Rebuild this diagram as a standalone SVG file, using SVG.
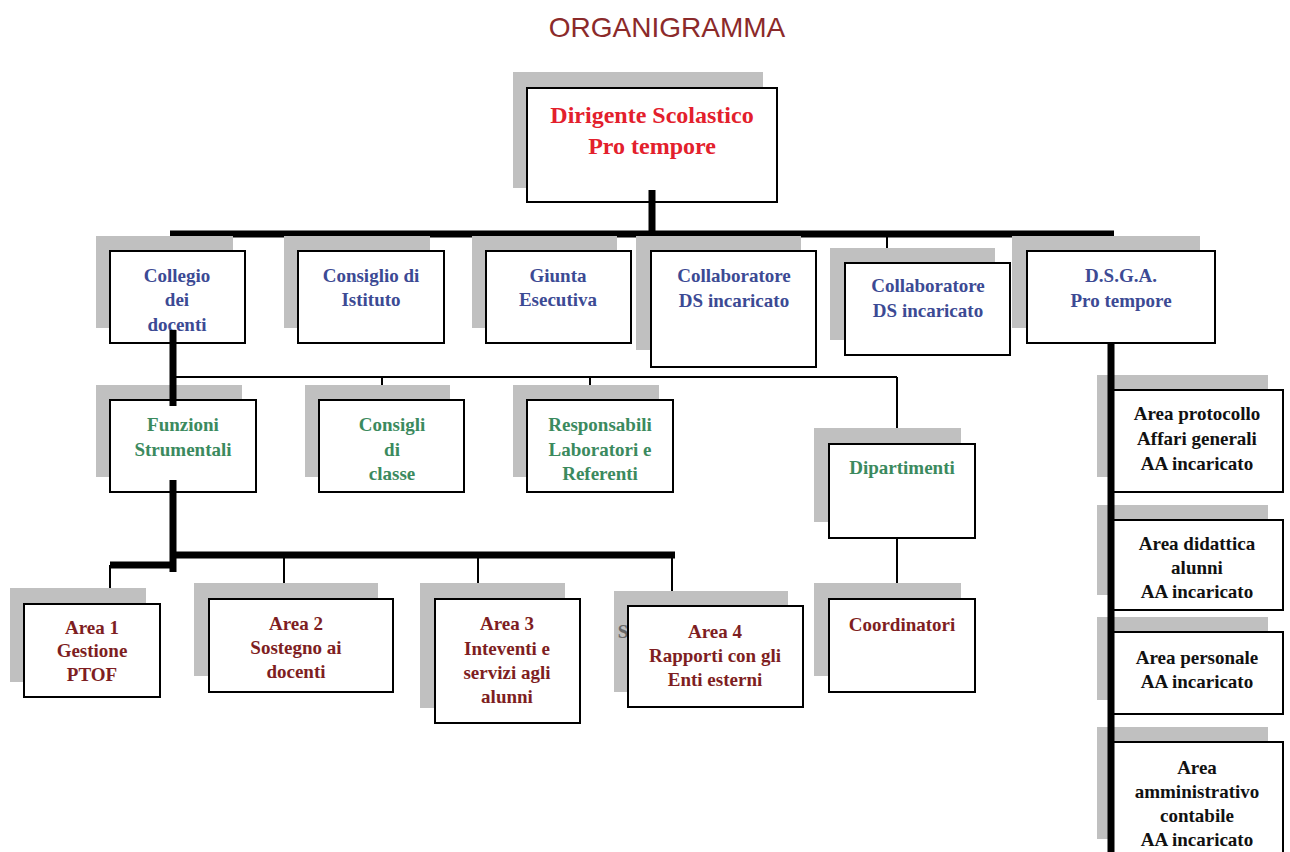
<svg xmlns="http://www.w3.org/2000/svg" width="1290" height="852" viewBox="0 0 1290 852">
<style>
.sh{fill:#c0c0c0}
.bx{fill:#fff;stroke:#000;stroke-width:2}
.tx text{font-family:'Liberation Serif','Times New Roman',serif;font-weight:bold;text-anchor:middle}
.t2{font-size:19px;fill:#3c4a94}
.t3{font-size:19px;fill:#3b8a5e}
.t4{font-size:19px;fill:#7e1e22}
.t5{font-size:19px;fill:#111}
.thk{stroke:#000;stroke-width:7;fill:none}
.thn{stroke:#000;stroke-width:2;fill:none}
</style>
<rect width="1290" height="852" fill="#fff"/>
<text x="667" y="37" text-anchor="middle" font-family="Liberation Sans, Arial, sans-serif" font-size="28" fill="#8b2a2a">ORGANIGRAMMA</text>

<g id="connectors">
<line class="thk" x1="170" y1="234" x2="1114" y2="234"/>
<line class="thn" x1="173" y1="234" x2="173" y2="251"/>
<line class="thn" x1="360" y1="234" x2="360" y2="251"/>
<line class="thn" x1="568" y1="234" x2="568" y2="251"/>
<line class="thn" x1="735" y1="234" x2="735" y2="251"/>
<line class="thn" x1="887" y1="234" x2="887" y2="263"/>
<line class="thn" x1="1111" y1="234" x2="1111" y2="251"/>
<line class="thn" x1="173" y1="377" x2="897" y2="377"/>
<line class="thn" x1="382" y1="377" x2="382" y2="400"/>
<line class="thn" x1="590" y1="377" x2="590" y2="400"/>
<line class="thn" x1="897" y1="377" x2="897" y2="444"/>
<line class="thn" x1="897" y1="538" x2="897" y2="599"/>
<line class="thk" x1="173" y1="555" x2="675" y2="555"/>
<line class="thk" x1="110" y1="565" x2="173" y2="565"/>
<line class="thn" x1="110" y1="565" x2="110" y2="604"/>
<line class="thn" x1="284" y1="555" x2="284" y2="599"/>
<line class="thn" x1="478" y1="555" x2="478" y2="599"/>
<line class="thn" x1="672" y1="555" x2="672" y2="606"/>
</g>

<g class="tx">
<g id="n-dirigente"><rect class="sh" x="513" y="72" width="250" height="116"/><rect class="bx" x="527" y="88" width="250" height="114"/>
<text x="652" y="123" font-size="24" fill="#e3202c">Dirigente Scolastico</text><text x="652" y="154" font-size="24" fill="#e3202c">Pro tempore</text></g>

<g id="n-collegio"><rect class="sh" x="96" y="236" width="137" height="92"/><rect class="bx" x="110" y="251" width="135" height="92"/>
<text class="t2" x="177" y="282">Collegio</text><text class="t2" x="177" y="306">dei</text><text class="t2" x="177" y="331">docenti</text></g>

<g id="n-consiglio"><rect class="sh" x="284" y="236" width="146" height="92"/><rect class="bx" x="298" y="251" width="146" height="92"/>
<text class="t2" x="371" y="282">Consiglio di</text><text class="t2" x="371" y="306">Istituto</text></g>

<g id="n-giunta"><rect class="sh" x="472" y="236" width="145" height="92"/><rect class="bx" x="486" y="251" width="145" height="92"/>
<text class="t2" x="558" y="282">Giunta</text><text class="t2" x="558" y="306">Esecutiva</text></g>

<g id="n-collab1"><rect class="sh" x="636" y="236" width="165" height="114"/><rect class="bx" x="651" y="251" width="165" height="116"/>
<text class="t2" x="734" y="282">Collaboratore</text><text class="t2" x="734" y="307">DS incaricato</text></g>

<g id="n-collab2"><rect class="sh" x="830" y="248" width="165" height="92"/><rect class="bx" x="845" y="263" width="165" height="92"/>
<text class="t2" x="928" y="292">Collaboratore</text><text class="t2" x="928" y="317">DS incaricato</text></g>

<g id="n-dsga"><rect class="sh" x="1012" y="236" width="188" height="92"/><rect class="bx" x="1027" y="251" width="188" height="92"/>
<text class="t2" x="1121" y="282">D.S.G.A.</text><text class="t2" x="1121" y="307">Pro tempore</text></g>

<g id="n-funzioni"><rect class="sh" x="96" y="385" width="146" height="92"/><rect class="bx" x="110" y="400" width="146" height="92"/>
<text class="t3" x="183" y="431">Funzioni</text><text class="t3" x="183" y="456">Strumentali</text></g>

<g id="n-consigli"><rect class="sh" x="305" y="385" width="145" height="92"/><rect class="bx" x="319" y="400" width="145" height="92"/>
<text class="t3" x="392" y="431">Consigli</text><text class="t3" x="392" y="456">di</text><text class="t3" x="392" y="480">classe</text></g>

<g id="n-responsabili"><rect class="sh" x="513" y="385" width="146" height="92"/><rect class="bx" x="527" y="400" width="146" height="92"/>
<text class="t3" x="600" y="431">Responsabili</text><text class="t3" x="600" y="456">Laboratori e</text><text class="t3" x="600" y="480">Referenti</text></g>

<g id="n-dipartimenti"><rect class="sh" x="814" y="428" width="147" height="94"/><rect class="bx" x="829" y="444" width="146" height="94"/>
<text class="t3" x="902" y="474">Dipartimenti</text></g>

<g id="n-coordinatori"><rect class="sh" x="814" y="583" width="147" height="93"/><rect class="bx" x="829" y="599" width="146" height="93"/>
<text class="t4" x="902" y="631">Coordinatori</text></g>

<g id="n-area1"><rect class="sh" x="10" y="588" width="136" height="94"/><rect class="bx" x="24" y="604" width="136" height="93"/>
<text class="t4" x="92" y="634">Area 1</text><text class="t4" x="92" y="657">Gestione</text><text class="t4" x="92" y="681">PTOF</text></g>

<g id="n-area2"><rect class="sh" x="194" y="583" width="184" height="93"/><rect class="bx" x="209" y="599" width="184" height="93"/>
<text class="t4" x="296" y="630">Area 2</text><text class="t4" x="296" y="654">Sostegno ai</text><text class="t4" x="296" y="678">docenti</text></g>

<g id="n-area3"><rect class="sh" x="420" y="583" width="145" height="125"/><rect class="bx" x="435" y="599" width="145" height="124"/>
<text class="t4" x="507" y="630">Area 3</text><text class="t4" x="507" y="655">Inteventi e</text><text class="t4" x="507" y="679">servizi agli</text><text class="t4" x="507" y="703">alunni</text></g>

<g id="n-area4"><rect class="sh" x="614" y="591" width="174" height="101"/>
<text x="623" y="638" font-size="19" fill="#666">S</text>
<rect class="bx" x="628" y="606" width="175" height="101"/>
<text class="t4" x="715" y="638">Area 4</text><text class="t4" x="715" y="662">Rapporti con gli</text><text class="t4" x="715" y="686">Enti esterni</text></g>

<g id="n-protocollo"><rect class="sh" x="1097" y="375" width="171" height="102"/><rect class="bx" x="1112" y="390" width="171" height="102"/>
<text class="t5" x="1197" y="420">Area protocollo</text><text class="t5" x="1197" y="445">Affari generali</text><text class="t5" x="1197" y="470">AA incaricato</text></g>

<g id="n-didattica"><rect class="sh" x="1097" y="505" width="171" height="90"/><rect class="bx" x="1112" y="520" width="171" height="90"/>
<text class="t5" x="1197" y="550">Area didattica</text><text class="t5" x="1197" y="574">alunni</text><text class="t5" x="1197" y="598">AA incaricato</text></g>

<g id="n-personale"><rect class="sh" x="1097" y="617" width="171" height="83"/><rect class="bx" x="1112" y="632" width="171" height="82"/>
<text class="t5" x="1197" y="664">Area personale</text><text class="t5" x="1197" y="688">AA incaricato</text></g>

<g id="n-amministrativo"><rect class="sh" x="1097" y="727" width="171" height="112"/><rect class="bx" x="1112" y="742" width="171" height="120"/>
<text class="t5" x="1197" y="774">Area</text><text class="t5" x="1197" y="798">amministrativo</text><text class="t5" x="1197" y="822">contabile</text><text class="t5" x="1197" y="846">AA incaricato</text></g>
</g>

<g id="connectors-over">
<line class="thk" x1="652" y1="190" x2="652" y2="236"/>
<line class="thk" x1="173" y1="330" x2="173" y2="406"/>
<line class="thk" x1="173" y1="480" x2="173" y2="572"/>
<line class="thk" x1="1111" y1="343" x2="1111" y2="852"/>
</g>
</svg>
